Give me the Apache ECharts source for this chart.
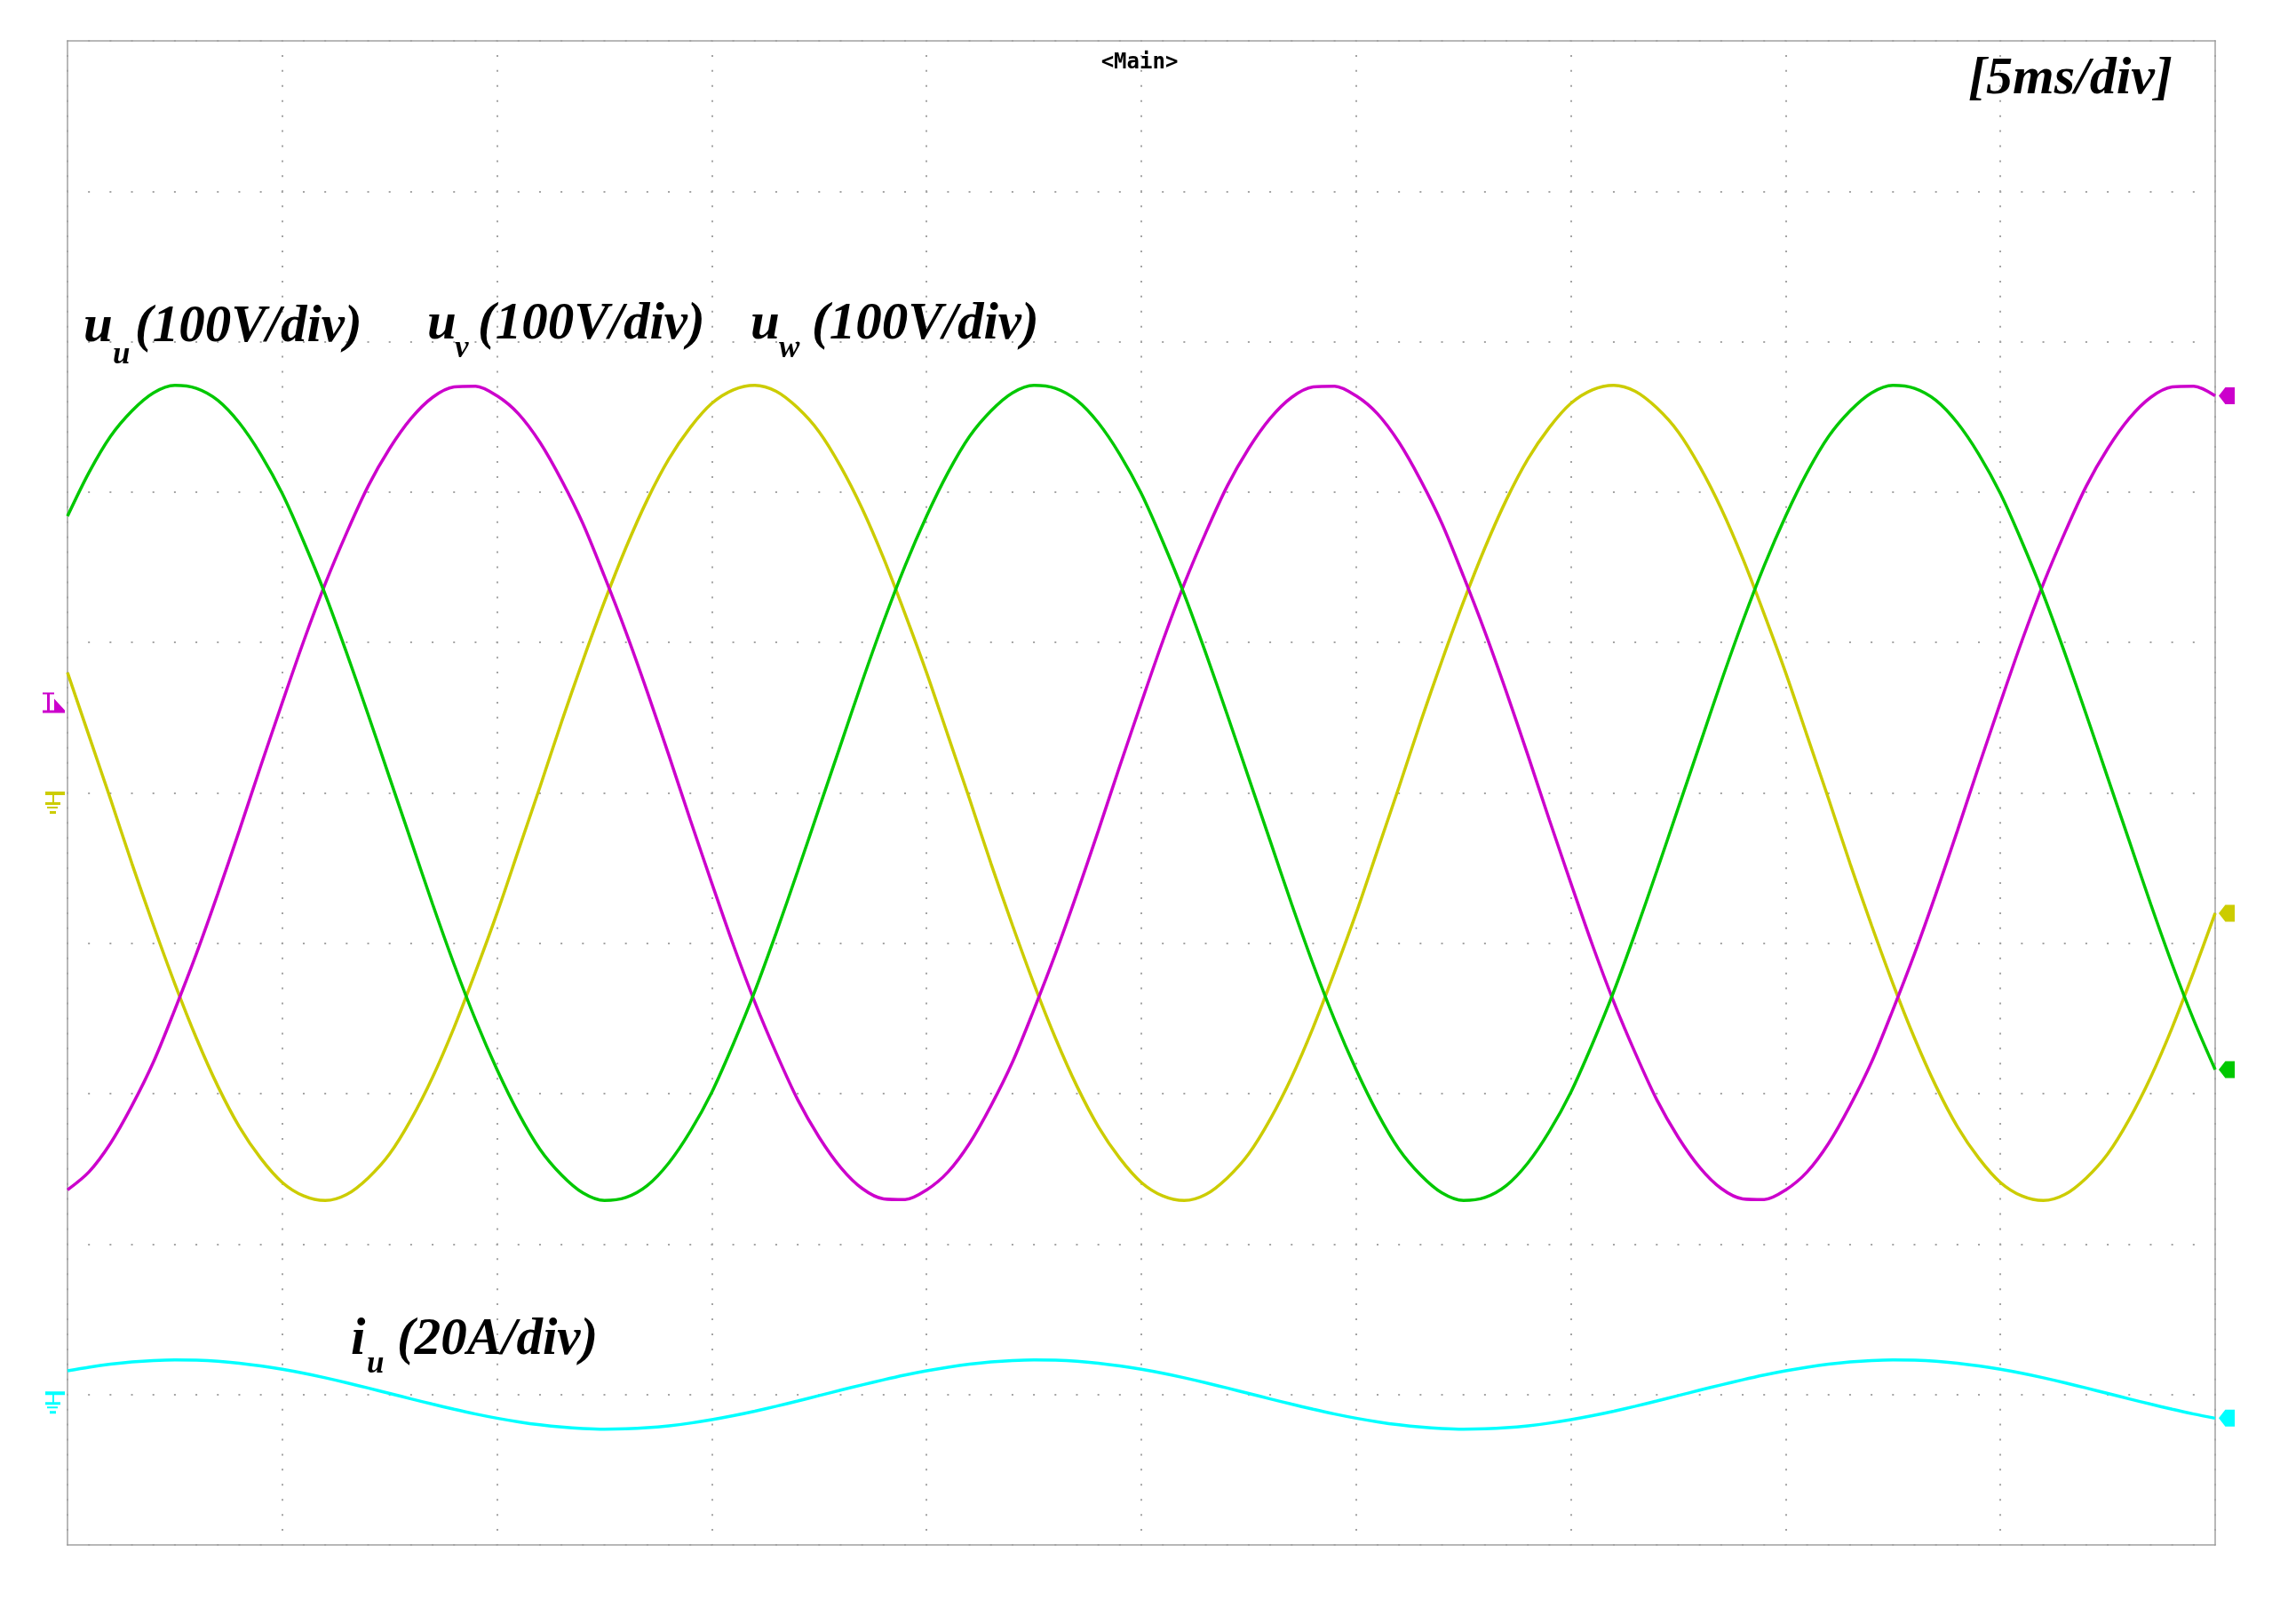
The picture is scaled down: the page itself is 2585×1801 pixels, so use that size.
<!DOCTYPE html>
<html>
<head>
<meta charset="utf-8">
<script src="https://cdn.jsdelivr.net/npm/echarts@6/dist/echarts.min.js"></script>
<style>
html,body{margin:0;padding:0;background:#ffffff;}
#chart{width:2585px;height:1801px;}
</style>
</head>
<body>
<div id="chart"></div>
<script>
// Time base: 5 ms/div, 10 divisions, every 0.5 ms
const timeMs = [0,0.5,1,1.5,2,2.5,3,3.5,4,4.5,5,5.5,6,6.5,7,7.5,8,8.5,9,9.5,
                10,10.5,11,11.5,12,12.5,13,13.5,14,14.5,15,15.5,16,16.5,17,17.5,18,18.5,19,19.5,
                20,20.5,21,21.5,22,22.5,23,23.5,24,24.5,25,25.5,26,26.5,27,27.5,28,28.5,29,29.5,
                30,30.5,31,31.5,32,32.5,33,33.5,34,34.5,35,35.5,36,36.5,37,37.5,38,38.5,39,39.5,
                40,40.5,41,41.5,42,42.5,43,43.5,44,44.5,45,45.5,46,46.5,47,47.5,48,48.5,49,49.5,50];

// Phase voltage u_u (V), green, 100 V/div
const uU = [184,213,237,254,266,271,269,261,246,225,199,167,132,93,52,10,-32,-74,-114,-151,
            -184,-213,-237,-254,-266,-271,-269,-261,-246,-225,-199,-167,-132,-93,-52,-10,32,74,114,151,
            184,213,237,254,266,271,269,261,246,225,199,167,132,93,52,10,-32,-74,-114,-151,
            -184,-213,-237,-254,-266,-271,-269,-261,-246,-225,-199,-167,-132,-93,-52,-10,32,74,114,151,
            184,213,237,254,266,271,269,261,246,225,199,167,132,93,52,10,-32,-74,-114,-151,-184];

// Phase voltage u_v (V), magenta, 100 V/div
const uV = [-264,-252,-233,-208,-179,-144,-107,-67,-25,18,60,101,139,173,204,229,249,263,269.9,270.4,
            264,252,233,208,179,144,107,67,25,-18,-60,-101,-139,-173,-204,-229,-249,-263,-269.9,-270.4,
            -264,-252,-233,-208,-179,-144,-107,-67,-25,18,60,101,139,173,204,229,249,263,269.9,270.4,
            264,252,233,208,179,144,107,67,25,-18,-60,-101,-139,-173,-204,-229,-249,-263,-269.9,-270.4,
            -264,-252,-233,-208,-179,-144,-107,-67,-25,18,60,101,139,173,204,229,249,263,269.9,270.4,264];

// Phase voltage u_w (V), yellow, 100 V/div
const uW = [80,38,-4,-47,-88,-127,-163,-195,-222,-243,-259,-268,-271,-267,-256,-240,-217,-189,-156,-119,
            -80,-38,4,47,88,127,163,195,222,243,259,268,271,267,256,240,217,189,156,119,
            80,38,-4,-47,-88,-127,-163,-195,-222,-243,-259,-268,-271,-267,-256,-240,-217,-189,-156,-119,
            -80,-38,4,47,88,127,163,195,222,243,259,268,271,267,256,240,217,189,156,119,
            80,38,-4,-47,-88,-127,-163,-195,-222,-243,-259,-268,-271,-267,-256,-240,-217,-189,-156,-119,-80];

// Phase current i_u (A), cyan, 20 A/div
const iU = [3.15,3.63,4.03,4.33,4.52,4.60,4.56,4.42,4.16,3.80,3.35,2.82,2.22,1.56,0.86,0.14,-0.58,-1.28,-1.96,-2.59,
            -3.15,-3.63,-4.03,-4.33,-4.52,-4.60,-4.56,-4.42,-4.16,-3.80,-3.35,-2.82,-2.22,-1.56,-0.86,-0.14,0.58,1.28,1.96,2.59,
            3.15,3.63,4.03,4.33,4.52,4.60,4.56,4.42,4.16,3.80,3.35,2.82,2.22,1.56,0.86,0.14,-0.58,-1.28,-1.96,-2.59,
            -3.15,-3.63,-4.03,-4.33,-4.52,-4.60,-4.56,-4.42,-4.16,-3.80,-3.35,-2.82,-2.22,-1.56,-0.86,-0.14,0.58,1.28,1.96,2.59,
            3.15,3.63,4.03,4.33,4.52,4.60,4.56,4.42,4.16,3.80,3.35,2.82,2.22,1.56,0.86,0.14,-0.58,-1.28,-1.96,-2.59,-3.15];

const triggerLevelV = 54;

const labels = {
  main: '<Main>',
  timebase: '[5ms/div]',
  scale: '(100V/div)',
  scaleI: '(20A/div)'
};

const COLORS = { u: '#00c800', v: '#cc00cc', w: '#cccc00', i: '#00ffff' };

const ARROW = 'path://M0,9L7,0L17,0L17,18L7,18Z';
const GROUND = 'path://M0,0H22V4H0Z M8,4H10V13H8Z M0,12H17V15H0Z M2,17H14V19H2Z M5,22H12V25H5Z';
const TRIG = 'path://M0,0H13V2H0Z M5,2H8V20H5Z M0,20H25V23H0Z M13,7L25,20L13,20Z';

const last = timeMs.length - 1;
const pairs = (arr) => timeMs.map((t, k) => [t, arr[k]]);

function endMarker(arr, color) {
  return { coord: [timeMs[last], arr[last]], symbol: ARROW, symbolSize: [18, 19], symbolOffset: [13, 0], itemStyle: { color: color } };
}

const serif = '"Liberation Serif", "Times New Roman", serif';
function txt(str, x, y, size) {
  return {
    type: 'text', x: x, y: y, silent: true, z: 100,
    style: {
      text: str, fill: '#000',
      font: 'italic bold ' + size + 'px ' + serif,
      align: 'left', verticalAlign: 'middle',
      textAlign: 'left', textVerticalAlign: 'middle'
    }
  };
}

const chart = echarts.init(document.getElementById('chart'), null, { renderer: 'canvas' });

const lineBase = {
  type: 'line', showSymbol: false, smooth: 0.3, animation: false,
  emphasis: { disabled: true }, clip: false
};
const LW = 3.5;

const option = {
  animation: false,
  backgroundColor: '#ffffff',
  grid: { left: 76, top: 46, width: 2418, height: 1693, show: true, borderColor: '#b8b8b8', borderWidth: 2, backgroundColor: '#ffffff' },
  xAxis: {
    type: 'value', min: 0, max: 50, interval: 5,
    axisLine: { show: false }, axisTick: { show: false }, axisLabel: { show: false },
    splitLine: { show: true, lineStyle: { color: '#a4a4a4', width: 2, type: [2, 14.93], dashOffset: 1 } }
  },
  yAxis: [
    {
      type: 'value', min: -500, max: 500, interval: 100,
      axisLine: { show: false }, axisTick: { show: false }, axisLabel: { show: false },
      splitLine: { show: true, lineStyle: { color: '#a4a4a4', width: 2, type: [2, 22.18], dashOffset: 1 } }
    },
    {
      type: 'value', min: -20, max: 180, interval: 20,
      axisLine: { show: false }, axisTick: { show: false }, axisLabel: { show: false },
      splitLine: { show: false }
    }
  ],
  series: [
    Object.assign({}, lineBase, {
      name: 'u_w', yAxisIndex: 0, data: pairs(uW),
      lineStyle: { color: COLORS.w, width: LW }, itemStyle: { color: COLORS.w },
      markPoint: { silent: true, animation: false, label: { show: false }, data: [
        endMarker(uW, COLORS.w),
        { coord: [timeMs[0], 0], symbol: GROUND, symbolSize: [22, 25], symbolOffset: [-14, 11], itemStyle: { color: COLORS.w } }
      ] }
    }),
    Object.assign({}, lineBase, {
      name: 'u_v', yAxisIndex: 0, data: pairs(uV),
      lineStyle: { color: COLORS.v, width: LW }, itemStyle: { color: COLORS.v },
      markPoint: { silent: true, animation: false, label: { show: false }, data: [
        endMarker(uV, COLORS.v),
        { coord: [timeMs[0], triggerLevelV], symbol: TRIG, symbolSize: [25, 23], symbolOffset: [-15.5, -10], itemStyle: { color: COLORS.v } }
      ] }
    }),
    Object.assign({}, lineBase, {
      name: 'u_u', yAxisIndex: 0, data: pairs(uU),
      lineStyle: { color: COLORS.u, width: LW }, itemStyle: { color: COLORS.u },
      markPoint: { silent: true, animation: false, label: { show: false }, data: [ endMarker(uU, COLORS.u) ] }
    }),
    Object.assign({}, lineBase, {
      name: 'i_u', yAxisIndex: 1, data: pairs(iU),
      lineStyle: { color: COLORS.i, width: LW }, itemStyle: { color: COLORS.i },
      markPoint: { silent: true, animation: false, label: { show: false }, data: [
        endMarker(iU, COLORS.i),
        { coord: [timeMs[0], 0], symbol: GROUND, symbolSize: [22, 25], symbolOffset: [-14, 9], itemStyle: { color: COLORS.i } }
      ] }
    })
  ],
  graphic: [
    txt('u', 94, 369, 59), txt('u', 127, 400, 35), txt(labels.scale, 152, 369, 59),
    txt('u', 481, 366, 59), txt('v', 512, 393, 35), txt(labels.scale, 538, 366, 59),
    txt('u', 845, 366, 59), txt('w', 877, 393, 35), txt(labels.scale, 914, 366, 59),
    txt('i', 395, 1509, 59), txt('u', 413, 1536, 35), txt(labels.scaleI, 447, 1509, 59),
    txt(labels.timebase, 2216, 89, 60),
    {
      type: 'text', x: 1283, y: 71, silent: true, z: 100,
      style: { text: labels.main, fill: '#000', font: 'bold 24px "DejaVu Sans Mono", monospace',
        align: 'center', verticalAlign: 'middle', textAlign: 'center', textVerticalAlign: 'middle' }
    }
  ]
};

chart.setOption(option);
</script>
</body>
</html>
